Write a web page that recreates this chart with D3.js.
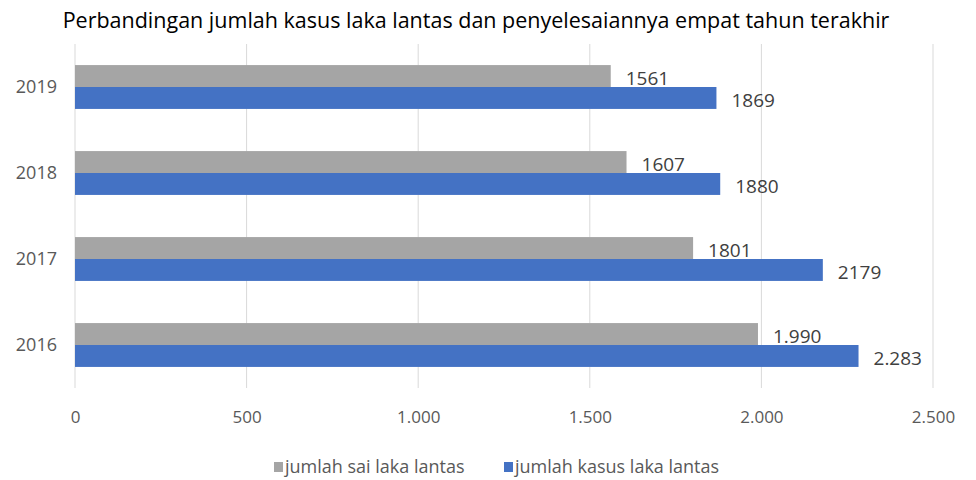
<!DOCTYPE html>
<html>
<head>
<meta charset="utf-8">
<script src="https://cdn.jsdelivr.net/npm/d3@7"></script>
<style>
  body { margin: 0; background: #fff; }
  text { font-family: "Open Sans", sans-serif; }
</style>
</head>
<body>
<div id="chart"></div>
<script>
// data
const years = ["2019", "2018", "2017", "2016"];
const seriesNames = ["jumlah sai laka lantas", "jumlah kasus laka lantas"];
const saiValues = [1561, 1607, 1801, 1990];
const kasusValues = [1869, 1880, 2179, 2283];
const saiLabels = ["1561", "1607", "1801", "1.990"];
const kasusLabels = ["1869", "1880", "2179", "2.283"];
const tickValues = [0, 500, 1000, 1500, 2000, 2500];
const tickLabels = ["0", "500", "1.000", "1.500", "2.000", "2.500"];
const colors = ["#a5a5a5", "#4472c4"];

const width = 976, height = 480;
const margin = { top: 44, right: 43, bottom: 92, left: 75 };

const svg = d3.select("#chart").append("svg")
    .attr("width", width)
    .attr("height", height);

const x = d3.scaleLinear()
    .domain([0, 2500])
    .range([margin.left, width - margin.right]);

const y = d3.scaleBand()
    .domain(years)
    .range([margin.top, height - margin.bottom])
    .paddingInner(0.49)
    .paddingOuter(0.245);

const inner = d3.scaleBand()
    .domain([0, 1])
    .range([0, y.bandwidth()]);

// title
svg.append("text")
    .attr("x", 476)
    .attr("y", 28)
    .attr("text-anchor", "middle")
    .attr("font-size", "21.5px")
    .attr("fill", "#000")
    .text("Perbandingan jumlah kasus laka lantas dan penyelesaiannya empat tahun terakhir");

// gridlines
svg.append("g")
    .selectAll("line")
    .data(tickValues)
    .enter()
    .append("line")
    .attr("x1", d => x(d))
    .attr("x2", d => x(d))
    .attr("y1", margin.top)
    .attr("y2", height - margin.bottom)
    .attr("stroke", "#d9d9d9")
    .attr("stroke-width", 1);

// x axis labels
const xAxis = svg.append("g")
    .attr("transform", "translate(0," + (height - margin.bottom) + ")")
    .call(d3.axisBottom(x).tickValues(tickValues).tickSize(0).tickPadding(23)
        .tickFormat((d, i) => tickLabels[i]));
xAxis.select(".domain").remove();
xAxis.selectAll("text")
    .attr("font-size", "17px")
    .attr("font-family", "Open Sans, sans-serif")
    .attr("fill", "#595959");

// y axis labels
const yAxis = svg.append("g")
    .attr("transform", "translate(" + margin.left + ",0)")
    .call(d3.axisLeft(y).tickSize(0).tickPadding(18));
yAxis.select(".domain").remove();
yAxis.selectAll("text")
    .attr("font-size", "18px")
    .attr("font-family", "Open Sans, sans-serif")
    .attr("fill", "#595959");

const rows = years.map((yr, i) => ({
    year: yr,
    vals: [
        { s: 0, v: saiValues[i], label: saiLabels[i] },
        { s: 1, v: kasusValues[i], label: kasusLabels[i] }
    ]
}));

const groups = svg.selectAll(".grp")
    .data(rows)
    .enter()
    .append("g")
    .attr("class", "grp")
    .attr("transform", d => "translate(0," + y(d.year) + ")");

groups.selectAll("rect")
    .data(d => d.vals)
    .enter()
    .append("rect")
    .attr("x", x(0))
    .attr("y", d => inner(d.s))
    .attr("width", d => x(d.v) - x(0))
    .attr("height", inner.bandwidth())
    .attr("fill", d => colors[d.s]);

groups.selectAll(".val")
    .data(d => d.vals)
    .enter()
    .append("text")
    .attr("class", "val")
    .attr("x", d => x(d.v) + 15)
    .attr("y", d => inner(d.s) + inner.bandwidth() / 2 + 2)
    .attr("dy", "0.35em")
    .attr("font-size", "19px")
    .attr("fill", "#404040")
    .text(d => d.label);

// legend
const legendX = [274, 504];
const legend = svg.selectAll(".leg")
    .data(seriesNames)
    .enter()
    .append("g")
    .attr("class", "leg")
    .attr("transform", (d, i) => "translate(" + legendX[i] + ",467)");

legend.append("rect")
    .attr("x", 0)
    .attr("y", -5)
    .attr("width", 9)
    .attr("height", 10)
    .attr("fill", (d, i) => colors[i]);

legend.append("text")
    .attr("x", 11)
    .attr("y", 0)
    .attr("dy", "0.35em")
    .attr("font-size", "18px")
    .attr("fill", "#595959")
    .text(d => d);
</script>
</body>
</html>
